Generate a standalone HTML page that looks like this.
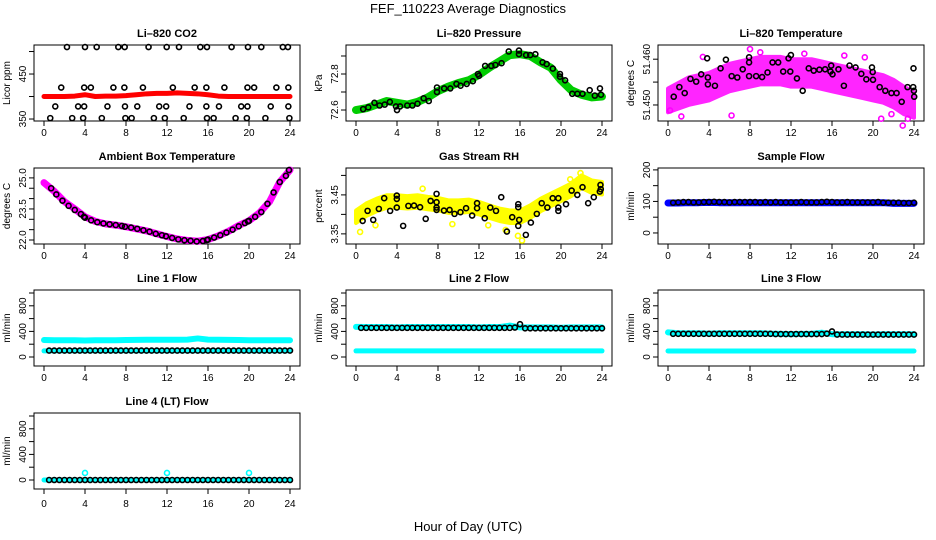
<!DOCTYPE html>
<html><head><meta charset="utf-8"><title>FEF_110223 Average Diagnostics</title>
<style>
html,body{margin:0;padding:0;background:#fff;}
svg{display:block;font-family:"Liberation Sans",Arial,sans-serif;}
</style></head>
<body>
<svg id="chart" width="936" height="540" viewBox="0 0 936 540" xmlns="http://www.w3.org/2000/svg">
<text x="468" y="13" font-size="13" text-anchor="middle">FEF_110223  Average Diagnostics</text>
<text x="468" y="531" font-size="13" text-anchor="middle">Hour of Day (UTC)</text>
</svg>
<script>
// ---------- data ----------
const H25=[0,1,2,3,4,5,6,7,8,9,10,11,12,13,14,15,16,17,18,19,20,21,22,23,24];
const H48=[0.5,1,1.5,2,2.5,3,3.5,4,4.5,5,5.5,6,6.5,7,7.5,8,8.5,9,9.5,10,10.5,11,11.5,12,12.5,13,13.5,14,14.5,15,15.5,16,16.5,17,17.5,18,18.5,19,19.5,20,20.5,21,21.5,22,22.5,23,23.5,24];
const xTicks=[0,4,8,12,16,20,24];

// CO2
const co2Band=[400,400,400,401,404,400,401,401,402,404,406,407,407,408,407,406,404,401,400,400,400,400,400,400,400];
const co2H=[2.24,4.0,5.14,7.25,7.87,10.2,11.97,13.17,15.25,15.9,18.3,19.9,21.2,23.3,23.8,
 1.68,3.92,4.57,6.77,7.84,9.65,12.57,14.7,15.84,17.6,19.85,20.5,22.67,23.84,
 1.1,3.33,3.92,6.19,7.9,9.1,11.24,11.92,14.19,15.84,17.07,19.24,19.85,22.12,23.84,
 0.61,2.75,3.82,5.64,7.94,8.55,10.72,11.79,13.63,15.9,16.55,18.69,19.79,21.6,23.94];
const co2V=[510,510,510,510,510,510,510,510,510,510,510,510,510,510,510,
 420,420,420,420,420,420,420,420,420,420,420,420,420,420,
 378,378,378,378,378,378,378,378,378,378,378,378,378,378,378,
 352,352,352,352,352,352,352,352,352,352,352,352,352,352,352];

// Pressure
const presBand=[72.60,72.61,72.63,72.65,72.64,72.63,72.645,72.67,72.705,72.73,72.75,72.765,72.795,72.835,72.87,72.905,72.91,72.9,72.865,72.835,72.765,72.71,72.685,72.67,72.675];
const presH=[0.7,1.2,1.8,2.3,2.8,3.3,3.9,4.0,4.3,5,5.5,6,6.6,7.1,7.9,7.9,8.6,9.2,9.8,10.2,10.8,11.4,11.9,12,12.6,13.2,13.6,14.2,14.9,15.9,15.9,16.6,17,17.5,18.2,18.6,19.2,19.9,19.9,20.4,21.1,21.6,22.1,22.8,23.3,23.8,23.9];
const presV=[72.605,72.615,72.64,72.625,72.63,72.645,72.62,72.6,72.62,72.625,72.625,72.635,72.665,72.65,72.7,72.725,72.72,72.72,72.745,72.735,72.745,72.76,72.8,72.79,72.845,72.845,72.85,72.86,72.925,72.93,72.91,72.905,72.905,72.91,72.865,72.855,72.83,72.8,72.785,72.765,72.69,72.69,72.69,72.71,72.68,72.72,72.685];

// Li-820 temperature
const tempBand=[51.451,51.452,51.453,51.4535,51.454,51.455,51.456,51.4565,51.457,51.4575,51.4575,51.4575,51.457,51.457,51.457,51.4565,51.456,51.4555,51.455,51.4545,51.454,51.4535,51.4525,51.451,51.450];
const tempHalf=[0.0026,0.0028,0.0030,0.0030,0.0030,0.0030,0.0030,0.0030,0.0030,0.0030,0.0030,0.0030,0.0030,0.0030,0.0030,0.0030,0.0030,0.0030,0.0030,0.0030,0.0030,0.0030,0.0030,0.0030,0.0028];
const tempH=[0.56,1.11,1.63,2.19,2.75,3.24,3.82,3.89,3.89,4.58,5.13,5.65,6.21,6.76,7.29,7.91,7.91,7.91,8.6,9.18,9.71,10.2,10.75,11.24,11.76,11.99,11.93,12.58,13.14,13.73,14.22,14.77,15.33,15.85,15.92,16.05,16.63,17.16,17.71,18.3,18.86,19.35,19.9,19.97,20,20.65,21.2,21.8,22.3,22.8,23.37,23.92,23.95,24.02,23.99];
const tempV=[51.4518,51.4539,51.4526,51.4557,51.4551,51.4567,51.4602,51.4560,51.4545,51.4542,51.4580,51.4599,51.4563,51.4560,51.4578,51.4593,51.4604,51.4563,51.4563,51.4561,51.4571,51.4593,51.4593,51.4573,51.4602,51.4609,51.4573,51.4558,51.4531,51.4580,51.4575,51.4577,51.4578,51.4573,51.4586,51.4567,51.4578,51.4542,51.4586,51.4582,51.4568,51.4556,51.4582,51.4572,51.4555,51.4539,51.4531,51.4526,51.4526,51.4507,51.4539,51.4539,51.4580,51.4518,51.4531];
const tempOutH=[0.2,1.3,3.4,6.2,8.0,9.0,13.3,17.2,19.2,20.8,21.8,22.9,23.4];
const tempOutV=[51.4488,51.4475,51.4605,51.4477,51.4622,51.4615,51.4612,51.4608,51.4604,51.4470,51.4480,51.4455,51.4470];

// Ambient box temperature
const ambBand=[24.77,24.35,23.85,23.5,23.12,22.9,22.78,22.72,22.64,22.54,22.44,22.3,22.17,22.05,21.98,21.94,22.02,22.2,22.42,22.7,22.93,23.3,23.85,24.8,25.38];
const ambH=[0.7,1.2,1.8,2.4,3.0,3.6,3.9,4.0,4.6,5.2,5.8,6.4,7.0,7.6,7.9,8.5,9.1,9.7,10.3,10.9,11.5,11.9,12.5,13.1,13.7,14.3,14.9,15.5,15.9,16.0,16.6,17.2,17.8,18.4,19.0,19.6,19.9,20.0,20.6,21.2,21.8,22.4,23.0,23.6,23.9];
const ambV=[24.5,24.2,23.9,23.65,23.45,23.25,23.12,23.08,22.95,22.86,22.8,22.76,22.72,22.68,22.64,22.6,22.54,22.47,22.4,22.3,22.23,22.18,22.1,22.03,21.99,21.96,21.93,21.95,22.0,22.02,22.12,22.23,22.36,22.5,22.66,22.82,22.9,22.93,23.12,23.35,23.75,24.3,24.8,25.1,25.38];

// Gas stream RH
const rhBand=[3.394,3.412,3.424,3.433,3.433,3.431,3.433,3.429,3.426,3.42,3.42,3.422,3.416,3.407,3.399,3.394,3.394,3.407,3.424,3.437,3.45,3.463,3.484,3.471,3.467];
const rhH=[0.65,1.13,1.68,2.23,2.75,3.33,3.98,3.98,3.98,4.6,5.11,5.66,6.25,6.8,7.28,7.86,7.86,7.86,7.86,8.58,9.13,9.61,10.19,10.74,11.33,11.81,11.81,12.56,13.1,13.66,14.17,14.72,15.24,15.83,15.83,15.83,15.92,16.57,17.06,17.64,18.12,18.67,19.19,19.74,19.74,19.74,20.49,21.04,21.59,22.1,22.65,23.2,23.79,23.85,23.88];
const rhV=[3.3833,3.409,3.3859,3.4141,3.4415,3.409,3.4483,3.4397,3.4175,3.3705,3.4218,3.4226,3.4184,3.3885,3.4346,3.4526,3.4312,3.4175,3.4115,3.4098,3.4115,3.4013,3.4056,3.4158,3.397,3.4287,3.4158,3.3902,3.4175,3.409,3.4441,3.356,3.3927,3.4261,3.4184,3.3705,3.3859,3.3474,3.379,3.4013,3.4287,3.4175,3.4415,3.4415,3.4175,3.409,3.4261,3.461,3.45,3.4697,3.4287,3.4441,3.4585,3.4756,3.4646];
const rhOutH=[0.4,1.9,6.5,9.4,12.9,14.6,15.8,16.2,20.9,21.9];
const rhOutV=[3.355,3.372,3.466,3.375,3.372,3.360,3.345,3.333,3.490,3.506];

// Sample flow
const sampBand=[95,95,96,96,97,96,96,96,96,96,96,96,96,96,96,96,96,96,96,96,96,96,94,94,94];
const sampV=[96,97,98,98,97,97,98,98,99,98,98,97,98,98,98,98,98,97,98,97,98,97,97,97,97,98,97,97,97,98,99,98,97,97,98,97,97,97,97,97,98,96,96,96,96,95,95,96];

// Line flows
const l1Up=[265,262,262,262,258,262,262,262,265,268,270,270,270,270,272,290,272,270,268,265,262,262,262,262,262];
const l1Lo=[95,95,95,95,95,95,95,95,95,95,95,95,95,95,95,95,95,95,95,95,95,95,95,95,95];
const l1V=[100,100,100,100,100,100,100,100,100,100,100,100,100,100,100,100,100,100,100,100,100,100,100,100,100,100,100,100,100,100,100,100,100,100,100,100,100,100,100,100,100,100,100,100,100,100,100,100];
const l2Up=[470,468,468,468,462,468,468,468,468,468,468,468,462,468,468,490,462,462,462,462,458,462,462,462,462];
const l2Lo=[95,95,95,95,95,95,95,95,95,95,95,95,95,95,95,95,95,95,95,95,95,95,95,95,95];
const l2V=[455,455,455,455,455,455,455,455,455,455,455,455,455,455,455,455,455,455,455,455,455,455,455,455,455,455,455,455,455,455,460,512,448,448,448,448,448,448,448,448,448,448,448,448,448,448,448,448];
const l3Up=[385,372,372,372,366,372,372,372,372,372,365,362,358,362,362,380,356,356,356,356,352,356,356,356,356];
const l3Lo=[94,94,94,94,94,94,94,94,94,94,94,94,94,94,94,94,94,94,94,94,94,94,94,94,94];
const l3V=[362,362,362,362,362,362,362,362,362,362,362,362,362,362,362,362,362,362,362,362,358,358,358,358,358,358,358,358,358,358,365,400,350,350,350,350,350,350,350,350,350,350,350,350,350,350,350,350];
const l4Cy=[0,0,0,0,0,0,0,0,0,0,0,0,0,0,0,0,0,0,0,0,0,0,0,0,0];
const l4SpikeH=[4,12,20];
const l4SpikeV=[110,110,110];
const l4V=[0,0,0,0,0,0,0,0,0,0,0,0,0,0,0,0,0,0,0,0,0,0,0,0,0,0,0,0,0,0,0,0,0,0,0,0,0,0,0,0,0,0,0,0,0,0,0,0];

// ---------- drawing ----------
const NS='http://www.w3.org/2000/svg';
const svg=document.getElementById('chart');
const COLS=[34,346,658], ROWS=[45,168,290,413], PW=266, PH=76;
function mk(tag,attrs,parent){const e=document.createElementNS(NS,tag);for(const k in attrs)e.setAttribute(k,attrs[k]);(parent||svg).appendChild(e);return e;}

function panel(col,row,name,title,ylab,lo,hi,ticks,labels,fmt){
  const L=COLS[col],T=ROWS[row],B=T+PH;
  const g=mk('g',{});
  
  
  const x=h=>L+10+h*(246/24);
  const y=v=>B-(v-lo)/(hi-lo)*PH;
  const t=mk('text',{x:L+PW/2,y:T-8,'font-size':11,'font-weight':'bold','text-anchor':'middle'},g);
  t.textContent=title;
  
  
  const box=mk('rect',{x:L,y:T,width:PW,height:PH,fill:'none',stroke:'#000','stroke-width':1},g);
  
  
  const xa=mk('g',{},g);
  
  
  xTicks.forEach(h=>{
    mk('line',{x1:x(h),x2:x(h),y1:B,y2:B+5,stroke:'#000'},xa);
    const tl=mk('text',{x:x(h),y:B+(row===3?18:15),'font-size':10,'text-anchor':'middle'},xa);
    tl.textContent=h;
  });
  const ya=mk('g',{},g);
  
  
  ticks.forEach(v=>{
    mk('line',{x1:L-5,x2:L,y1:y(v),y2:y(v),stroke:'#000'},ya);
  });
  labels.forEach(v=>{
    const tx=L-8,ty=y(v);
    const tl=mk('text',{x:tx,y:ty,'font-size':10,'text-anchor':'middle',transform:`rotate(-90 ${tx} ${ty})`},ya);
    tl.textContent=fmt(v);
  });
  const yt=mk('text',{x:L-24,y:T+PH/2,'font-size':10,'text-anchor':'middle',transform:`rotate(-90 ${L-24} ${T+PH/2})`},g);
  yt.textContent=ylab;
  
  
  return {g,x,y};
}
function band(p,hs,vs,color,w,name){
  const pl=mk('polyline',{points:hs.map((h,i)=>p.x(h)+','+p.y(vs[i])).join(' '),fill:'none',stroke:color,'stroke-width':w,'stroke-linejoin':'round','stroke-linecap':'round'},p.g);
  
  
}
function area(p,hs,vs,half,color,name,op){
  const up=hs.map((h,i)=>p.x(h)+','+p.y(vs[i]+half[i]));
  const dn=hs.map((h,i)=>p.x(h)+','+p.y(vs[i]-half[i])).reverse();
  const pg=mk('polygon',{points:up.concat(dn).join(' '),fill:color,stroke:color,'stroke-width':4,'stroke-linejoin':'round',opacity:op},p.g);
  
  
}
function pts(p,hs,vs,color,name,sw){
  const gg=mk('g',{},p.g);
  
  
  hs.forEach((h,i)=>{
    const c=mk('circle',{cx:p.x(h),cy:p.y(vs[i]),r:2.5,fill:'none',stroke:color,'stroke-width':sw||1.6},gg);
    
    
  });
}
const f0=v=>String(v), f1=v=>v.toFixed(1), f2=v=>v.toFixed(2), f3=v=>v.toFixed(3);
const constHalf=(n,v)=>Array(n).fill(v);

// Row 1
let p=panel(0,0,'co2','Li\u2013820 CO2','Licor ppm',345.6,514.5,[350,400,450,500],[350,450],f0);
band(p,H25,co2Band,'#ff0000',5,'co2-red-series');
pts(p,co2H,co2V,'#000','co2-black-series');

p=panel(1,0,'pressure','Li\u2013820 Pressure','kPa',72.539,72.961,[72.6,72.7,72.8,72.9],[72.6,72.8],f1);
band(p,H25,presBand,'#00cd00',8,'pressure-green-series');
pts(p,presH,presV,'#000','pressure-black-series');

p=panel(2,0,'li820-temp','Li\u2013820 Temperature','degrees C',51.4465,51.4631,[51.450,51.455,51.460],[51.450,51.460],f3);
area(p,H25,tempBand,tempHalf,'#ff00ff','li820-temp-magenta-series',0.85);
pts(p,tempOutH,tempOutV,'#ff00ff','li820-temp-magenta-outliers');
pts(p,tempH,tempV,'#000','li820-temp-black-series');

// Row 2
p=panel(0,1,'ambient','Ambient Box Temperature','degrees C',21.807,25.478,[22,22.5,23,23.5,24,24.5,25],[22,23.5,25],f1);
band(p,H25,ambBand,'#ff00ff',7,'ambient-magenta-series');
pts(p,ambH,ambV,'#000','ambient-black-series');

p=panel(1,1,'rh','Gas Stream RH','percent',3.324,3.519,[3.35,3.40,3.45,3.50],[3.35,3.45],f2);
area(p,H25,rhBand,constHalf(25,0.016),'#ffff00','rh-yellow-series',1);
pts(p,rhOutH,rhOutV,'#ffff00','rh-yellow-outliers');
pts(p,rhH,rhV,'#000','rh-black-series');

p=panel(2,1,'sample-flow','Sample Flow','ml/min',-35,206,[0,50,100,150,200],[0,100,200],f0);
band(p,H25,sampBand,'#0000ff',7,'sample-flow-blue-series');
pts(p,H48,sampV,'#000','sample-flow-black-series');

// Row 3
const FT=[0,200,400,600,800,1000], FL=[0,400,800];
p=panel(0,2,'line1','Line 1 Flow','ml/min',-140.6,1046.9,FT,FL,f0);
band(p,H25,l1Up,'#00ffff',6,'line1-cyan-upper-series');
band(p,H25,l1Lo,'#00ffff',5,'line1-cyan-lower-series');
pts(p,H48,l1V,'#000','line1-black-series');

p=panel(1,2,'line2','Line 2 Flow','ml/min',-140.6,1046.9,FT,FL,f0);
band(p,H25,l2Up,'#00ffff',6,'line2-cyan-upper-series');
band(p,H25,l2Lo,'#00ffff',5,'line2-cyan-lower-series');
pts(p,H48,l2V,'#000','line2-black-series');

p=panel(2,2,'line3','Line 3 Flow','ml/min',-140.6,1046.9,FT,FL,f0);
band(p,H25,l3Up,'#00ffff',6,'line3-cyan-upper-series');
band(p,H25,l3Lo,'#00ffff',5,'line3-cyan-lower-series');
pts(p,H48,l3V,'#000','line3-black-series');

// Row 4
p=panel(0,3,'line4','Line 4 (LT) Flow','ml/min',-140.6,1046.9,FT,FL,f0);
band(p,H25,l4Cy,'#00ffff',5,'line4-cyan-series');
pts(p,l4SpikeH,l4SpikeV,'#00ffff','line4-cyan-spikes');
pts(p,H48,l4V,'#000','line4-black-series');
</script>
</body></html>
